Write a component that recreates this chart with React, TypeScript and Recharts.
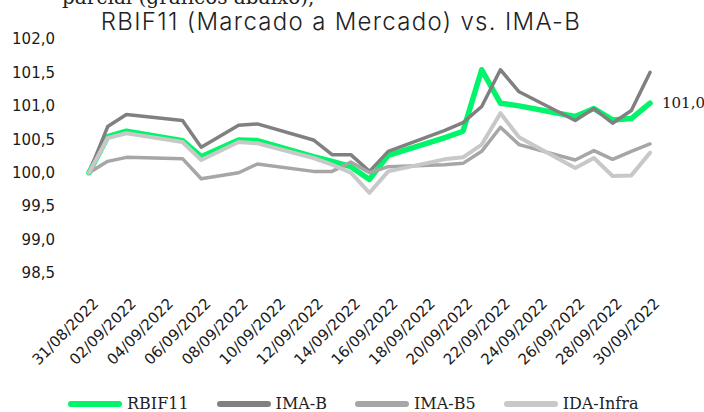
import React from "react";
import { LineChart, Line, XAxis, YAxis, LabelList } from "recharts";

const DATES = [
  "31/08/2022", "01/09/2022", "02/09/2022", "05/09/2022", "06/09/2022", "08/09/2022",
  "09/09/2022", "12/09/2022", "13/09/2022", "14/09/2022", "15/09/2022", "16/09/2022",
  "19/09/2022", "20/09/2022", "21/09/2022", "22/09/2022", "23/09/2022", "26/09/2022",
  "27/09/2022", "28/09/2022", "29/09/2022", "30/09/2022",
];
const RBIF11 = [100.0, 100.54, 100.62, 100.48, 100.24, 100.49, 100.48, 100.24, 100.17, 100.09, 99.9, 100.26, 100.52, 100.62, 101.54, 101.04, 101.0, 100.84, 100.96, 100.79, 100.81, 101.04];
const IMAB = [100.0, 100.69, 100.87, 100.78, 100.38, 100.71, 100.73, 100.49, 100.27, 100.27, 100.02, 100.32, 100.63, 100.75, 100.99, 101.54, 101.21, 100.78, 100.96, 100.74, 100.93, 101.5];
const IMAB5 = [100.0, 100.17, 100.23, 100.21, 99.91, 100.0, 100.13, 100.02, 100.02, 100.16, 100.0, 100.09, 100.12, 100.14, 100.32, 100.68, 100.42, 100.19, 100.33, 100.2, 100.32, 100.43];
const IDAINFRA = [100.0, 100.52, 100.59, 100.46, 100.19, 100.46, 100.44, 100.22, 100.12, 100.0, 99.7, 100.02, 100.2, 100.23, 100.42, 100.89, 100.53, 100.07, 100.22, 99.95, 99.96, 100.3];

const X_TICK_LABELS = [
  "31/08/2022", "02/09/2022", "04/09/2022", "06/09/2022", "08/09/2022", "10/09/2022",
  "12/09/2022", "14/09/2022", "16/09/2022", "18/09/2022", "20/09/2022", "22/09/2022",
  "24/09/2022", "26/09/2022", "28/09/2022", "30/09/2022",
];
const Y_TICKS = [98.5, 99.0, 99.5, 100.0, 100.5, 101.0, 101.5, 102.0];

const SERIES = [
  { key: "RBIF11", name: "RBIF11", color: "#00F56A", width: 5.5, values: RBIF11 },
  { key: "IMAB", name: "IMA-B", color: "#808080", width: 3.5, values: IMAB },
  { key: "IMAB5", name: "IMA-B5", color: "#A6A6A6", width: 3.5, values: IMAB5 },
  { key: "IDA", name: "IDA-Infra", color: "#C8C8C8", width: 4, values: IDAINFRA },
];

const TITLE = "RBIF11 (Marcado a Mercado) vs. IMA-B";
const TOP_TEXT = "parcial (gráficos abaixo),";

const toDay = (s: string) => {
  const [d, m, y] = s.split("/").map(Number);
  return Date.UTC(y, m - 1, d) / 86400000;
};
const DAY0 = toDay(DATES[0]);
const dayOf = (s: string) => toDay(s) - DAY0;

const data = DATES.map((d, i) => {
  const row: any = { t: dayOf(d), date: d };
  SERIES.forEach((s) => (row[s.key] = s.values[i]));
  return row;
});

const tickDays = X_TICK_LABELS.map(dayOf);
const labelForDay = (v: number) => {
  const idx = tickDays.indexOf(v);
  return idx >= 0 ? X_TICK_LABELS[idx] : "";
};

const fmt = (v: number) => v.toFixed(1).replace(".", ",");

const XTick = (props: any) => {
  const { x, y, payload } = props;
  const tx = x + 3;
  return (
    <text
      x={tx}
      y={y}
      dy="0.71em"
      transform={`rotate(-45 ${tx} ${y})`}
      textAnchor="end"
      fontFamily="DejaVu Sans"
      fontSize={15}
      fill="#1a1a1a"
    >
      {labelForDay(payload.value)}
    </text>
  );
};

const LastLabel = (props: any) => {
  const { x, y, index, value } = props;
  if (index !== data.length - 1) return null;
  return (
    <text x={x + 12} y={y} dy="0.35em" fontFamily="DejaVu Serif" fontSize={15} fill="#1a1a1a">
      {fmt(value)}
    </text>
  );
};

export default function App() {
  return (
    <div style={{ position: "absolute", left: 0, top: 0, width: 704, height: 412, overflow: "hidden", background: "#fff" }}>
      <div style={{ position: "absolute", left: 62, top: -13, fontFamily: "DejaVu Serif", fontSize: 20, lineHeight: "20px", color: "#222", whiteSpace: "nowrap" }}>
        {TOP_TEXT}
      </div>
      <div style={{ position: "absolute", left: 0, width: 682, top: 10, textAlign: "center", fontFamily: "Inter", fontWeight: 300, fontSize: 24, lineHeight: "24px", letterSpacing: 1.3, color: "#222", whiteSpace: "nowrap" }}>
        {TITLE}
      </div>
      <div style={{ position: "absolute", left: 0, top: 0 }}>
        <LineChart width={704} height={412} data={data} margin={{ top: 39, right: 54, bottom: 0, left: 0 }}>
          <XAxis
            dataKey="t"
            type="number"
            domain={[0, 30]}
            ticks={tickDays}
            interval={0}
            axisLine={false}
            tickLine={false}
            tickSize={0}
            tickMargin={24}
            height={139}
            tick={<XTick />}
          />
          <YAxis
            type="number"
            domain={[98.5, 102]}
            ticks={Y_TICKS}
            interval={0}
            axisLine={false}
            tickLine={false}
            tickSize={0}
            tickMargin={34}
            width={89}
            tickFormatter={fmt}
            tick={{ fontFamily: "DejaVu Sans", fontSize: 15, fill: "#1a1a1a" }}
          />
          {SERIES.map((s) => (
            <Line
              key={s.key}
              dataKey={s.key}
              name={s.name}
              type="linear"
              stroke={s.color}
              strokeWidth={s.width}
              strokeLinejoin="round"
              strokeLinecap="round"
              dot={false}
              activeDot={false}
              isAnimationActive={false}
            >
              {s.key === "RBIF11" ? <LabelList dataKey={s.key} content={<LastLabel />} /> : null}
            </Line>
          ))}
        </LineChart>
      </div>
      <div style={{ position: "absolute", left: 68, top: 394, display: "flex", alignItems: "center", fontFamily: "DejaVu Serif", fontSize: 16, lineHeight: "20px", color: "#222", whiteSpace: "nowrap" }}>
        {SERIES.map((s) => (
          <div key={s.key} style={{ display: "flex", alignItems: "center", marginRight: 28 }}>
            <div style={{ width: 54, height: 6, borderRadius: 3, background: s.color, marginRight: 5 }} />
            <span>{s.name}</span>
          </div>
        ))}
      </div>
    </div>
  );
}
